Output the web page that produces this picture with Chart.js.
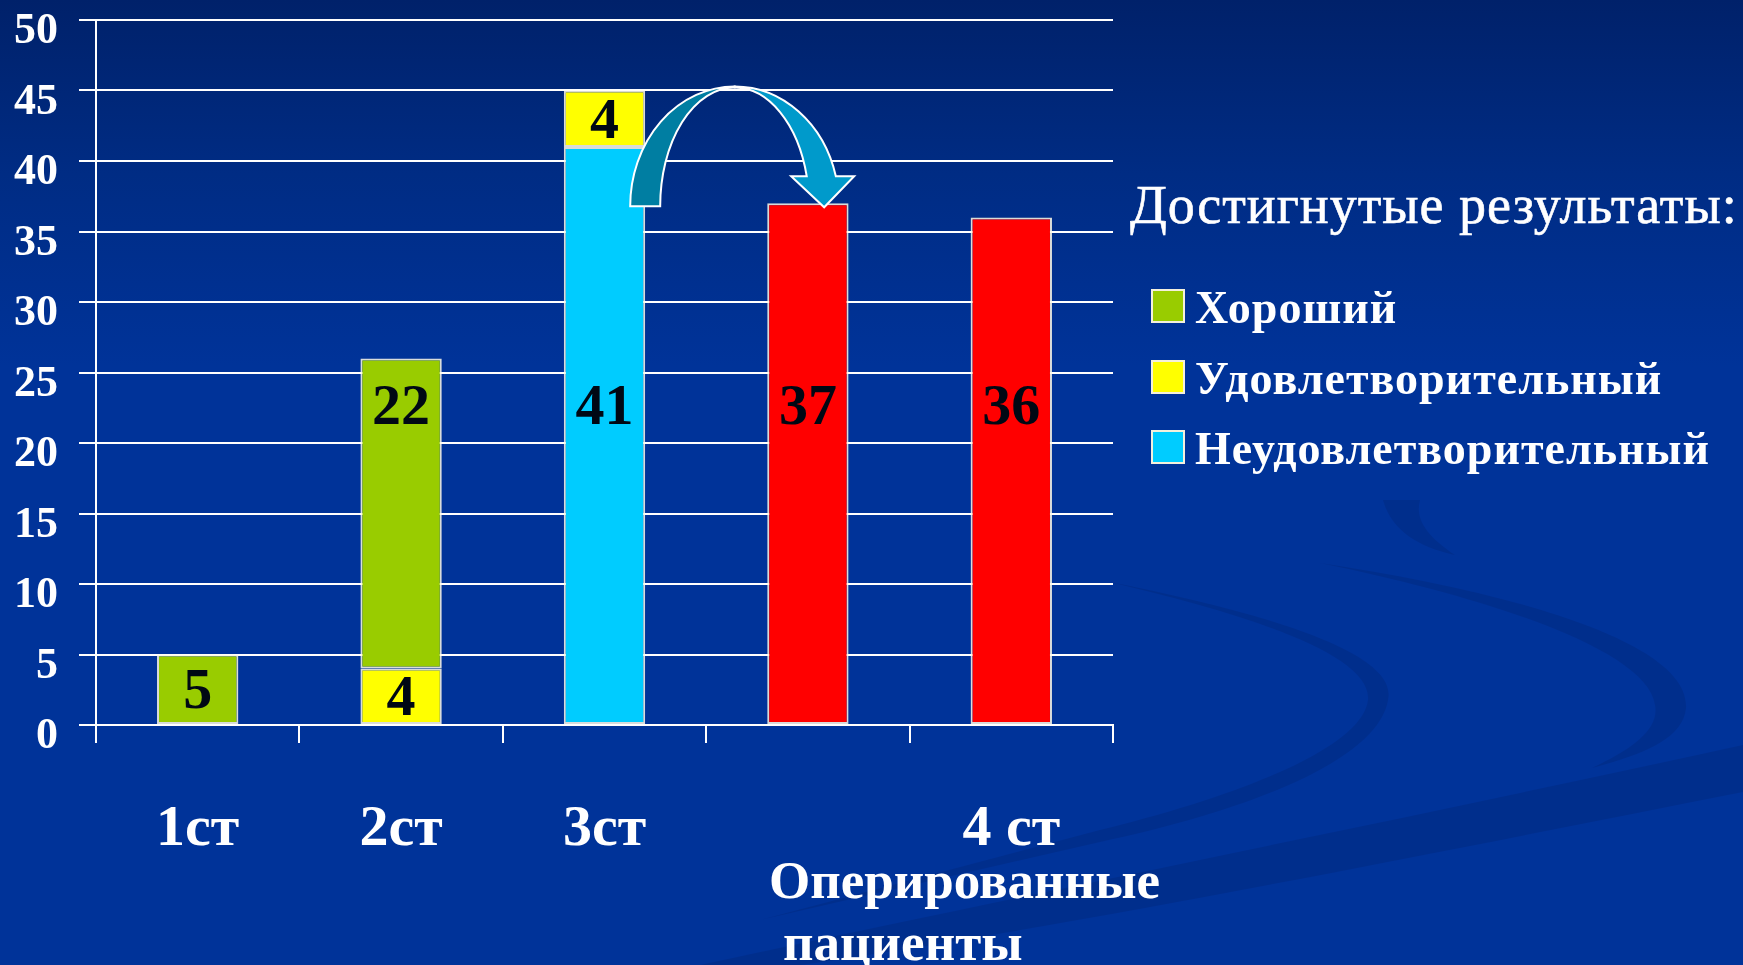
<!DOCTYPE html>
<html lang="ru">
<head>
<meta charset="utf-8">
<title>Достигнутые результаты</title>
<script src="https://cdn.jsdelivr.net/npm/chart.js@4.4.1/dist/chart.umd.min.js"></script>
<style>
  html, body { margin: 0; padding: 0; }
  body {
    width: 1743px; height: 965px; overflow: hidden; position: relative;
    background: linear-gradient(to bottom, #00216a 0%, #002c84 18%, #003399 38%, #003399 100%);
    font-family: "Liberation Serif", "DejaVu Serif", serif; color: #fff;
  }
  #bg { position: absolute; left: 0; top: 0; }
  #chart { position: absolute; left: 0; top: 0; }
  .legend-title {
    position: absolute; left: 1130px; top: 178px;
    font-size: 54px; line-height: 1; white-space: nowrap;
    letter-spacing: 1px; -webkit-text-stroke: 0.6px #fff;
  }
  .legend-row {
    position: absolute; left: 1151px;
    font-size: 46px; font-weight: bold; line-height: 1; white-space: nowrap;
    letter-spacing: 1px;
  }
  .legend-box {
    display: inline-block; width: 30px; height: 30px;
    border: 2px solid #f4f0dc; margin-right: 10px; vertical-align: baseline;
  }
  .axis-title {
    position: absolute; left: 769px; top: 849px;
    font-size: 53px; font-weight: bold; line-height: 62px; white-space: nowrap;
  }
  .axis-title .indent { padding-left: 14px; }
</style>
</head>
<body>
<svg id="bg" width="1743" height="965">
  <g fill="#002a80" opacity="0.5">
    <path d="M 700 965 C 1000 900, 1400 820, 1743 745 L 1743 792 C 1400 860, 1050 930, 800 965 Z"/>
    <path d="M 1110 582 C 1250 610, 1400 650, 1388 700 C 1378 760, 1250 810, 1100 842 L 760 920 L 1100 830 C 1230 798, 1362 750, 1368 700 C 1372 655, 1250 615, 1110 582 Z"/>
    <path d="M 1320 563 C 1500 590, 1690 640, 1686 708 C 1683 740, 1640 755, 1592 768 C 1630 750, 1660 730, 1655 705 C 1648 652, 1500 600, 1320 563 Z"/>
    <path d="M 1383 500 C 1390 525, 1410 545, 1455 555 C 1425 535, 1415 518, 1420 500 Z"/>
  </g>
</svg>
<canvas id="chart" width="1743" height="965"></canvas>
<div class="legend-title">Достигнутые результаты:</div>
<div id="legend"></div>
<div class="axis-title">Оперированные<br><span class="indent">пациенты</span></div>

<script>
// Chart data
const CATEGORIES = ["1ст", "2ст", "3ст", "", "4 ст"]
const GOOD = [5, 22, null, null, null]
const FAIR = [null, 4, 4, null, null]
const POOR = [null, null, 41, null, null]
const OPERATED = [null, null, null, 37, 36]
const SERIES_NAMES = ["Хороший", "Удовлетворительный", "Неудовлетворительный"]
const Y_MIN = 0
const Y_MAX = 50
const Y_STEP = 5

// Styling
const COLORS = { good: "#99cc00", fair: "#ffff00", poor: "#00ccff", operated: "#ff0000" }
const SERIF = '"Liberation Serif", "Times New Roman", serif'
const TALL_LABEL_LEVEL = 22.4 // tall segments carry their labels at one height
const ARROW_FROM = 2
const ARROW_TO = 3

// Legend (HTML, built from the same names/colours)
const legend = document.getElementById("legend")
const legendColors = [COLORS.good, COLORS.fair, COLORS.poor]
SERIES_NAMES.forEach((name, i) => {
  const row = document.createElement("div")
  row.className = "legend-row"
  row.style.top = (285 + i * 70.5) + "px"
  row.innerHTML = `<span class="legend-box" style="background:${legendColors[i]}"></span>${name}`
  legend.appendChild(row)
})

// Value labels drawn on each segment
const valueLabels = {
  id: "valueLabels",
  afterDatasetsDraw(chart) {
    const { ctx, scales: { y } } = chart
    ctx.save()
    ctx.fillStyle = "#000814"
    ctx.font = `bold 58px ${SERIF}`
    ctx.textAlign = "center"
    ctx.textBaseline = "middle"
    chart.data.datasets.forEach((ds, di) => {
      const meta = chart.getDatasetMeta(di)
      meta.data.forEach((bar, i) => {
        const v = ds.data[i]
        if (v == null) return
        const yPos = v > 10 ? y.getPixelForValue(TALL_LABEL_LEVEL) : (bar.y + bar.base) / 2 + 4
        ctx.fillText(String(v), bar.x, yPos)
      })
    })
    ctx.restore()
  }
}

// Find top segment of a stacked bar at a category index
function topBar(chart, index) {
  let best = null
  chart.data.datasets.forEach((ds, di) => {
    if (ds.data[index] == null) return
    const el = chart.getDatasetMeta(di).data[index]
    if (!best || el.y < best.y) best = el
  })
  return best
}

// Curved arrow from the 3rd bar to the 4th
const curvedArrow = {
  id: "curvedArrow",
  afterDraw(chart) {
    const from = topBar(chart, ARROW_FROM)
    const to = topBar(chart, ARROW_TO)
    if (!from || !to) return
    const { ctx } = chart
    const w = 30
    const xL = from.x + from.width / 2
    const tipX = to.x + to.width * 0.2
    const cx = (xL + tipX) / 2
    const baseY = to.y + 3
    const rxO = cx - (xL - w / 2)
    const ryO = baseY - (from.y - 4)
    const rxI = rxO - w
    const ryI = ryO - 1
    const headH = 30
    const tipY = baseY + 1
    const hb = baseY - headH
    const thO = 2 * Math.PI - Math.asin(headH / ryO)
    const thI = 2 * Math.PI - Math.asin(headH / ryI)

    ctx.save()
    ctx.lineWidth = 2
    ctx.strokeStyle = "#ffffff"
    ctx.lineJoin = "miter"

    // back (left) half
    ctx.beginPath()
    ctx.ellipse(cx, baseY, rxO, ryO, 0, Math.PI, 1.5 * Math.PI)
    ctx.ellipse(cx, baseY, rxI, ryI, 0, 1.5 * Math.PI, Math.PI, true)
    ctx.closePath()
    ctx.fillStyle = "#007ea2"
    ctx.fill()
    ctx.stroke()

    // front (right) half with the head
    ctx.beginPath()
    ctx.ellipse(cx, baseY, rxO, ryO, 0, 1.5 * Math.PI, thO)
    ctx.lineTo(tipX + 30, hb)
    ctx.lineTo(tipX, tipY)
    ctx.lineTo(tipX - 33, hb)
    ctx.ellipse(cx, baseY, rxI, ryI, 0, thI, 1.5 * Math.PI, true)
    ctx.closePath()
    ctx.fillStyle = "#009acb"
    ctx.fill()
    ctx.stroke()
    ctx.restore()
  }
}

const barStyle = {
  borderColor: "rgba(255, 250, 230, 0.85)",
  borderWidth: 2,
  borderSkipped: false,
  barPercentage: 0.4,
  categoryPercentage: 1
}

new Chart(document.getElementById("chart"), {
  type: "bar",
  data: {
    labels: CATEGORIES,
    datasets: [
      { label: SERIES_NAMES[2], data: POOR, backgroundColor: COLORS.poor, ...barStyle },
      { label: SERIES_NAMES[1], data: FAIR, backgroundColor: COLORS.fair, ...barStyle },
      { label: SERIES_NAMES[0], data: GOOD, backgroundColor: COLORS.good, ...barStyle },
      { label: "Оперированные", data: OPERATED, backgroundColor: COLORS.operated, ...barStyle }
    ]
  },
  options: {
    responsive: false,
    animation: false,
    layout: { padding: { top: 20, right: 630, left: 0, bottom: 0 } },
    plugins: {
      legend: { display: false },
      tooltip: { enabled: false }
    },
    scales: {
      x: {
        stacked: true,
        afterFit: (scale) => { scale.height = 240 },
        grid: {
          offset: true,
          drawOnChartArea: true,
          color: (c) => (c.index === CATEGORIES.length ? "#ffffff" : "rgba(0,0,0,0)"),
          tickColor: "#ffffff",
          tickLength: 18,
          lineWidth: 2
        },
        border: { display: true, color: "#ffffff", width: 2 },
        ticks: {
          color: "#ffffff",
          padding: 52,
          maxRotation: 0,
          autoSkip: false,
          font: { family: SERIF, size: 58, weight: "bold" }
        }
      },
      y: {
        stacked: true,
        min: Y_MIN,
        max: Y_MAX,
        afterFit: (scale) => {
          scale.width = 96
          scale.paddingTop = 0
          scale.paddingBottom = 0
        },
        grid: { color: "#ffffff", lineWidth: 2, tickLength: 17 },
        border: { display: true, color: "#ffffff", width: 2 },
        ticks: {
          stepSize: Y_STEP,
          color: "#ffffff",
          padding: 21,
          labelOffset: 12,
          font: { family: SERIF, size: 44, weight: "bold", lineHeight: 0.9 }
        }
      }
    }
  },
  plugins: [valueLabels, curvedArrow]
})
</script>
</body>
</html>
